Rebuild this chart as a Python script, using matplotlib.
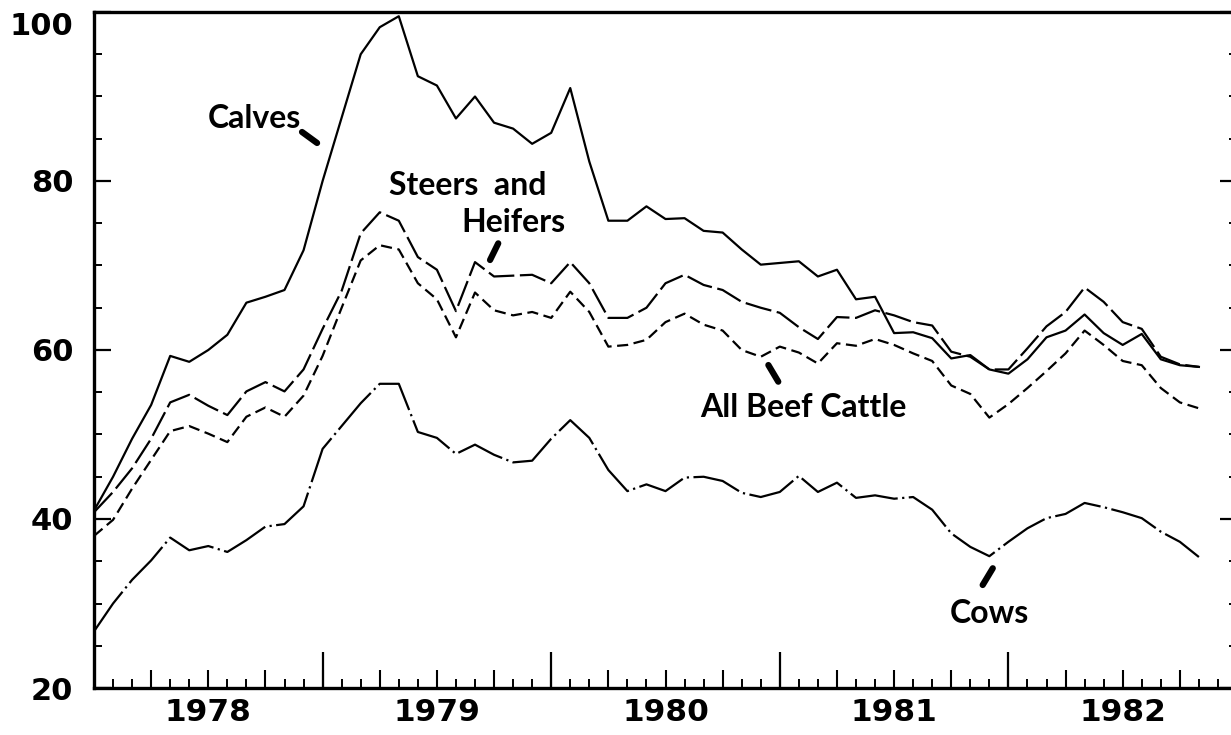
import matplotlib
matplotlib.use("Agg")
import matplotlib.pyplot as plt
import matplotlib.transforms as mtransforms
import numpy as np

# monthly index, 0 = Jan 1978
years = ["1978", "1979", "1980", "1981", "1982"]

calves = [41.0, 45.0, 49.5, 53.5, 59.3, 58.6, 60.0, 61.8, 65.6, 66.3, 67.1, 71.8,
          80.0, 87.5, 95.0, 98.2, 99.5, 92.4, 91.3, 87.4, 90.0, 86.9, 86.2, 84.4,
          85.7, 91.0, 82.3, 75.3, 75.3, 77.0, 75.5, 75.6, 74.1, 73.9, 71.9, 70.1,
          70.3, 70.5, 68.7, 69.5, 66.0, 66.3, 62.0, 62.1, 61.4, 59.0, 59.4, 57.7,
          57.2, 58.9, 61.5, 62.3, 64.2, 62.0, 60.6, 61.9, 58.9, 58.2, 58.0]

steers = [40.8, 43.2, 46.0, 49.5, 53.8, 54.7, 53.4, 52.3, 55.1, 56.2, 55.1, 57.7,
          62.5, 67.0, 73.8, 76.3, 75.3, 71.0, 69.5, 64.6, 70.4, 68.7, 68.8, 68.9,
          67.9, 70.4, 67.9, 63.8, 63.8, 65.0, 67.9, 68.9, 67.7, 67.1, 65.7, 65.0,
          64.4, 62.7, 61.3, 63.9, 63.8, 64.7, 64.1, 63.3, 62.9, 59.8, 59.2, 57.7,
          57.7, 60.2, 62.8, 64.5, 67.4, 65.7, 63.3, 62.5, 59.2, 58.3, 58.0]

all_beef = [38.0, 39.9, 43.6, 47.0, 50.4, 51.0, 50.1, 49.1, 52.1, 53.2, 52.1, 54.6,
            59.3, 65.0, 70.6, 72.4, 71.9, 67.9, 66.0, 61.5, 66.8, 64.7, 64.1, 64.5,
            63.8, 66.9, 64.5, 60.4, 60.6, 61.2, 63.3, 64.3, 63.0, 62.3, 60.0, 59.2,
            60.4, 59.7, 58.4, 60.8, 60.5, 61.3, 60.6, 59.6, 58.7, 55.8, 54.8, 52.0,
            53.6, 55.5, 57.5, 59.6, 62.3, 60.6, 58.7, 58.2, 55.5, 53.8, 53.1]

cows = [26.7, 30.0, 32.8, 35.1, 37.8, 36.3, 36.8, 36.1, 37.5, 39.1, 39.4, 41.5,
        48.3, 51.0, 53.7, 56.0, 56.0, 50.3, 49.6, 47.7, 48.8, 47.6, 46.7, 46.9,
        49.5, 51.7, 49.6, 45.8, 43.3, 44.1, 43.3, 44.9, 45.0, 44.5, 43.1, 42.6,
        43.2, 45.1, 43.2, 44.3, 42.5, 42.8, 42.4, 42.6, 41.1, 38.3, 36.7, 35.6,
        37.3, 38.9, 40.1, 40.6, 41.9, 41.4, 40.8, 40.1, 38.5, 37.3, 35.5]

months = np.arange(len(calves))

fig = plt.figure(figsize=(12.31, 7.35), dpi=100)
# right spine falls just outside the picture, as in the scan
ax = fig.add_axes([94 / 1231, 47 / 735, 1143 / 1231, 676 / 735])

lw = 1.6
ax.plot(months, calves, color="black", lw=lw)
ax.plot(months, steers, color="black", lw=lw, dashes=[12, 2.5])
ax.plot(months, all_beef, color="black", lw=lw, dashes=[5, 2.5])
ax.plot(months, cows, color="black", lw=lw, dashes=[22, 2, 1, 2])

ax.set_xlim(0, 60)
ax.set_ylim(20, 100)

for s in ["left", "bottom", "top", "right"]:
    ax.spines[s].set_linewidth(2.4)

# y axis
ax.set_yticks([20, 40, 60, 80, 100])
ax.set_yticks(np.arange(20, 101, 5), minor=True)
ax.tick_params(axis="y", which="major", direction="in", length=12.5, width=1.6,
               right=True, pad=15, labelsize=22)
ax.tick_params(axis="y", which="minor", direction="in", length=6, width=1.4,
               right=True)
for lab in ax.get_yticklabels():
    lab.set_fontweight("bold")
top_lab = ax.yaxis.get_major_ticks()[-1].label1
top_lab.set_transform(top_lab.get_transform()
                      + mtransforms.ScaledTranslation(0, -8.5 / 72, fig.dpi_scale_trans))

# x axis: months short, quarters medium, years long
ax.set_xticks(np.arange(3, 60, 3))
ax.set_xticks(np.arange(1, 60), minor=True)
ax.tick_params(axis="x", which="major", direction="in", length=13, width=1.5,
               labelbottom=False)
ax.tick_params(axis="x", which="minor", direction="in", length=6.5, width=1.4)

sec_years = ax.secondary_xaxis("bottom")
sec_years.set_xticks([12, 24, 36, 48])
sec_years.tick_params(direction="in", length=26, width=1.6, labelbottom=False)
sec_years.spines["bottom"].set_visible(False)

sec_labels = ax.secondary_xaxis("bottom")
sec_labels.set_xticks([6, 18, 30, 42, 54])
sec_labels.set_xticklabels(years, fontsize=22.5, fontweight="bold")
sec_labels.tick_params(length=0, pad=7)
sec_labels.spines["bottom"].set_visible(False)

# series labels
lab_font = dict(family="Lato", fontweight="bold", fontsize=23, color="black")
ax.text(5.98, 86.3, "Calves", ha="left", va="baseline", **lab_font)
ax.text(15.5, 78.3, "Steers  and", ha="left", va="baseline", **lab_font)
ax.text(19.3, 74.0, "Heifers", ha="left", va="baseline", **lab_font)
ax.text(31.8, 52.1, "All Beef Cattle", ha="left", va="baseline", **lab_font)
ax.text(44.9, 27.7, "Cows", ha="left", va="baseline", **lab_font)

leader = dict(arrowstyle="-", lw=4.5, color="black", shrinkA=0, shrinkB=0)
ax.annotate("", xy=(11.71, 84.5), xytext=(10.92, 85.8), arrowprops=leader)
ax.annotate("", xy=(20.79, 70.65), xytext=(21.22, 72.62), arrowprops=leader)
ax.annotate("", xy=(35.92, 56.25), xytext=(35.40, 58.22), arrowprops=leader)
ax.annotate("", xy=(46.65, 32.19), xytext=(47.18, 34.17), arrowprops=leader)

fig.savefig("out.png", dpi=100, facecolor="white")
